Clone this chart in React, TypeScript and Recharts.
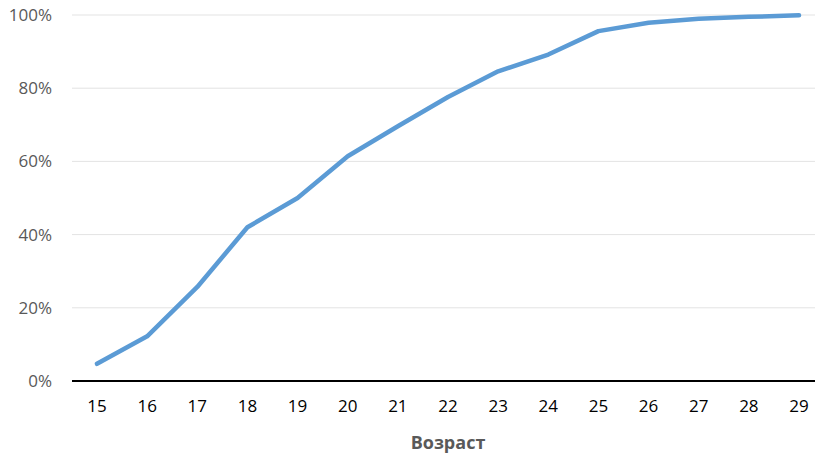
import React from 'react';
import { LineChart, Line, XAxis, YAxis, CartesianGrid } from 'recharts';

const ages = ['15', '16', '17', '18', '19', '20', '21', '22', '23', '24', '25', '26', '27', '28', '29'];
const cumulativeShare = [0.047, 0.122, 0.257, 0.42, 0.5, 0.614, 0.696, 0.776, 0.846, 0.892, 0.956, 0.979, 0.99, 0.995, 0.999];
const yTicks = [0, 0.2, 0.4, 0.6, 0.8, 1];
const xTitle = 'Возраст';

const data = ages.map((a, i) => ({ age: a, share: cumulativeShare[i] }));

export default function App() {
  return (
    <div style={{ position: 'absolute', left: 0, top: 0, width: 815, height: 455, overflow: 'hidden', background: '#fff' }}>
      <LineChart width={824} height={455} data={data} margin={{ top: 15, right: 0, left: 0, bottom: 0 }}>
        <CartesianGrid vertical={false} stroke="#e3e3e3" strokeWidth={1} />
        <XAxis
          dataKey="age"
          height={74}
          padding={{ left: 25, right: 25 }}
          tickLine={false}
          tickSize={0}
          tickMargin={19}
          axisLine={{ stroke: '#000', strokeWidth: 2 }}
          tick={{ fill: '#000', fontSize: 17, fontFamily: 'Open Sans' }}
          interval={0}
          label={{ value: xTitle, position: 'insideBottom', offset: 6, fill: '#595959', fontSize: 18, fontWeight: 700, fontFamily: 'Open Sans' }}
        />
        <YAxis
          width={72}
          domain={[0, 1]}
          ticks={yTicks}
          tickFormatter={(v: number) => `${Math.round(v * 100)}%`}
          tickLine={false}
          tickSize={0}
          tickMargin={20}
          axisLine={false}
          tick={{ fill: '#595959', fontSize: 17, fontFamily: 'Open Sans' }}
        />
        <Line
          type="linear"
          dataKey="share"
          stroke="#5B9BD5"
          strokeWidth={4.5}
          strokeLinecap="round"
          strokeLinejoin="round"
          dot={false}
          isAnimationActive={false}
        />
      </LineChart>
    </div>
  );
}
